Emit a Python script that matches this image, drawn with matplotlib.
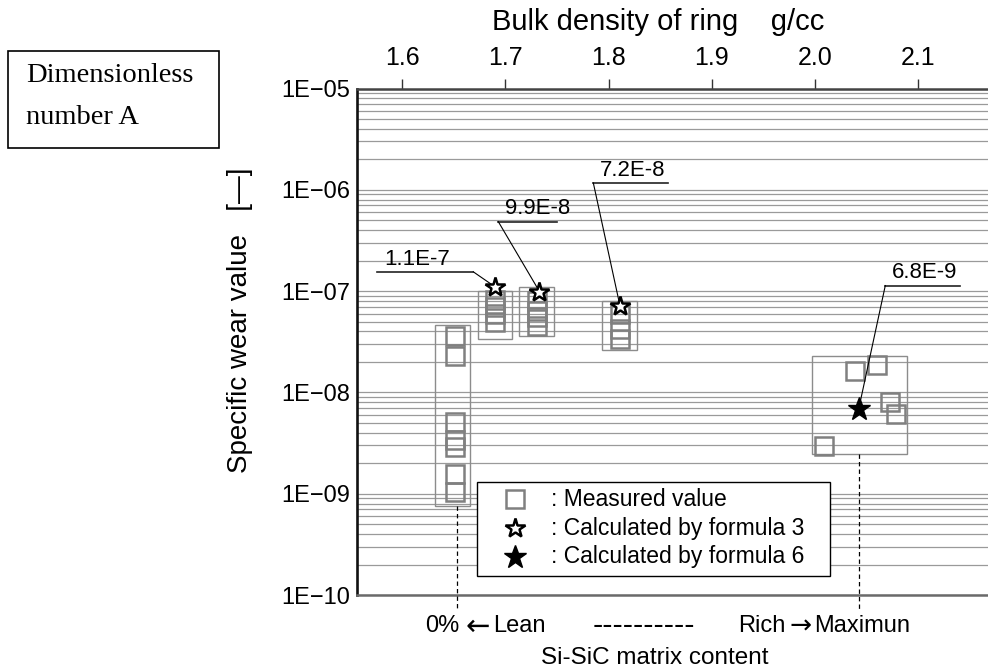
import matplotlib
matplotlib.use("Agg")
import matplotlib.pyplot as plt
from matplotlib.patches import Rectangle
from matplotlib.ticker import FixedLocator, FixedFormatter, LogLocator, NullFormatter

# ---------------- data ----------------
density_ticks = [1.6, 1.7, 1.8, 1.9, 2.0, 2.1]
density_ticklabels = ["1.6", "1.7", "1.8", "1.9", "2.0", "2.1"]
wear_ticks = [1e-10, 1e-9, 1e-8, 1e-7, 1e-6, 1e-5]
wear_ticklabels = ["1E\u221210", "1E\u221209", "1E\u221208", "1E\u221207", "1E\u221206", "1E\u221205"]

measured_density = [1.651] * 7 + [1.690] * 4 + [1.731] * 4 + [1.811] * 3 + \
                   [2.039, 2.060, 2.073, 2.079, 2.009]
measured_wear = [3.6e-8, 2.3e-8, 5.1e-9, 3.4e-9, 2.9e-9, 1.55e-9, 1.03e-9,
                 8.1e-8, 6.9e-8, 5.9e-8, 4.95e-8,
                 7.9e-8, 6.4e-8, 5.5e-8, 4.5e-8,
                 5.9e-8, 4.2e-8, 3.4e-8,
                 1.62e-8, 1.88e-8, 8.1e-9, 6.15e-9, 2.99e-9]

formula3_density = [1.690, 1.733, 1.811]
formula3_wear = [1.1e-7, 9.9e-8, 7.2e-8]
formula3_labels = ["1.1E-7", "9.9E-8", "7.2E-8"]
formula6_density = [2.0425]
formula6_wear = [6.8e-9]
formula6_labels = ["6.8E-9"]

group_density_lo = [1.632, 1.673, 1.7134, 1.7939, 1.997]
group_density_hi = [1.666, 1.706, 1.7467, 1.8272, 2.089]
group_wear_lo = [7.6e-10, 3.4e-8, 3.6e-8, 2.6e-8, 2.44e-9]
group_wear_hi = [4.6e-8, 1.01e-7, 1.10e-7, 7.9e-8, 2.31e-8]

# ---------------- layout ----------------
W, H, DPI = 988, 672, 100
FONT = ["Liberation Sans", "DejaVu Sans"]
ARROW_FONT = ["DejaVu Sans"]
plt.rcParams["font.family"] = FONT

fig = plt.figure(figsize=(W / DPI, H / DPI), dpi=DPI)
ax_left, ax_right, ax_top, ax_bot = 357, 988, 88.5, 595
ax = fig.add_axes([ax_left / W, 1 - ax_bot / H, (ax_right - ax_left) / W, (ax_bot - ax_top) / H])
ax.set_yscale("log")
ax.set_xlim(1.556, 2.168)
ax.set_ylim(1e-10, 1e-5)

# grid
ax.yaxis.set_major_locator(FixedLocator(wear_ticks))
ax.yaxis.set_major_formatter(FixedFormatter(wear_ticklabels))
ax.yaxis.set_minor_locator(LogLocator(base=10, subs=range(2, 10), numticks=50))
ax.yaxis.set_minor_formatter(NullFormatter())
ax.grid(True, which="both", axis="y", color="#9a9a9a", lw=0.9)
ax.tick_params(axis="y", which="both", length=0, pad=5, labelsize=17)

ax.xaxis.tick_top()
ax.set_xticks(density_ticks)
ax.set_xticklabels(density_ticklabels)
ax.tick_params(axis="x", which="major", direction="out", length=7, width=1,
               color="#333333", pad=6, labelsize=18)
ax.tick_params(axis="x", which="minor", length=0)

ax.spines["right"].set_visible(False)
ax.spines["left"].set_linewidth(1.9)
ax.spines["left"].set_color("#111111")
ax.spines["top"].set_linewidth(1.8)
ax.spines["top"].set_color("#444444")
ax.spines["bottom"].set_linewidth(1.8)
ax.spines["bottom"].set_color("#6a6a6a")

# group boxes
for x0, x1, y0, y1 in zip(group_density_lo, group_density_hi, group_wear_lo, group_wear_hi):
    ax.add_patch(Rectangle((x0, y0), x1 - x0, y1 - y0, fill=False,
                           ec="#8c8c8c", lw=1.0, zorder=3))

# dashed guide lines below first and last group
ax.plot([1.653] * 2, [group_wear_lo[0], 7.2e-11], ls=(0, (3.5, 2.5)),
        color="black", lw=0.9, clip_on=False, zorder=3)
ax.plot([formula6_density[0]] * 2, [group_wear_lo[-1], 7.2e-11], ls=(0, (3.5, 2.5)),
        color="black", lw=0.9, clip_on=False, zorder=3)

# measured values
ax.plot(measured_density, measured_wear, ls="none", marker="s", ms=12.5,
        mfc="none", mec="#808080", mew=1.8, zorder=4)
# formula 3
ax.plot(formula3_density, formula3_wear, ls="none", marker="*", ms=15,
        mfc="white", mec="black", mew=1.8, zorder=6)
# formula 6
ax.plot(formula6_density, formula6_wear, ls="none", marker="*", ms=17,
        mfc="black", mec="black", mew=1.0, zorder=6)

# annotation callouts (underline start, underline end, level, which end the leader leaves)
callout_x0 = [1.5757, 1.6930, 1.7852, 2.0684]
callout_x1 = [1.6688, 1.7503, 1.8580, 2.1412]
callout_y = [1.55e-7, 4.86e-7, 1.17e-6, 1.135e-7]
callout_from_right = [True, False, False, False]
all_x = formula3_density + formula6_density
all_y = formula3_wear + formula6_wear
all_lab = formula3_labels + formula6_labels
for x0, x1, yy, fr, sx, sy, lab in zip(callout_x0, callout_x1, callout_y,
                                       callout_from_right, all_x, all_y, all_lab):
    ax.plot([x0, x1], [yy, yy], color="#222222", lw=1.2, zorder=5)
    lx = x1 if fr else x0
    ax.plot([lx, sx], [yy, sy], color="black", lw=0.8, zorder=5)
    ax.annotate(lab, (x0, yy), xytext=(5, 1.5), textcoords="offset points",
                ha="left", va="bottom", fontsize=16, zorder=7)

# axis titles
def px(x, y):
    return x / W, 1 - y / H

fig.text(*px(658, 22), "Bulk density of ring    g/cc", ha="center", va="center", fontsize=21)
fig.text(*px(240, 320), "Specific wear value   [\u2014]", ha="center", va="center",
         rotation=90, fontsize=20)

# dimensionless box
fig.patches.append(Rectangle(px(8, 148), 211 / W, 97 / H, transform=fig.transFigure,
                             fill=False, ec="black", lw=1.2))
fig.text(*px(26, 76), "Dimensionless", ha="left", va="center", fontsize=20.5,
         family=["Liberation Serif", "DejaVu Serif"])
fig.text(*px(26, 118), "number A", ha="left", va="center", fontsize=20.5,
         family=["Liberation Serif", "DejaVu Serif"])

# legend
fig.patches.append(Rectangle(px(477, 576), 353 / W, 94 / H, transform=fig.transFigure,
                             fill=True, fc="white", ec="black", lw=1.0, zorder=10))
leg_rows = [499, 528, 557]
leg_text = [": Measured value", ": Calculated by formula 3", ": Calculated by formula 6"]
leg_style = [dict(marker="s", ms=12.5, mfc="none", mec="#808080", mew=1.8),
             dict(marker="*", ms=15, mfc="white", mec="black", mew=1.8),
             dict(marker="*", ms=17, mfc="black", mec="black", mew=1.0)]
for yy, t, st in zip(leg_rows, leg_text, leg_style):
    fig.add_artist(plt.Line2D([515 / W], [1 - yy / H], transform=fig.transFigure,
                              ls="none", zorder=11, **st))
    fig.text(*px(551, yy), t, ha="left", va="center", fontsize=16.5, zorder=11)

# bottom labels
fig.text(*px(425, 626), "0%", ha="left", va="center", fontsize=17)
fig.text(*px(478, 627), "\u2190", ha="center", va="center", fontsize=21, family=ARROW_FONT)
fig.text(*px(493, 626), "Lean", ha="left", va="center", fontsize=17)
fig.text(*px(593, 626), "----------", ha="left", va="center", fontsize=22)
fig.text(*px(738, 626), "Rich", ha="left", va="center", fontsize=17)
fig.text(*px(801, 627), "\u2192", ha="center", va="center", fontsize=19, family=ARROW_FONT)
fig.text(*px(814, 626), "Maximun", ha="left", va="center", fontsize=17)
fig.text(*px(655, 658), "Si-SiC matrix content", ha="center", va="center", fontsize=17.5)

fig.savefig("out.png", dpi=DPI)
